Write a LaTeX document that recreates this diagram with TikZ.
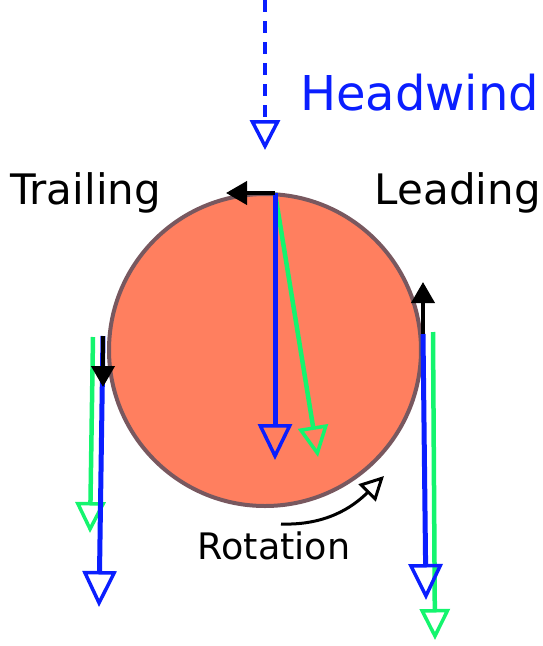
\documentclass[tikz,border=0pt]{standalone}
\usepackage{fontspec}
\setmainfont{DejaVu Sans}
\usetikzlibrary{arrows.meta,positioning}

\definecolor{wheelred}{RGB}{255,127,95}
\definecolor{rimgray}{RGB}{120,88,95}
\definecolor{windblue}{RGB}{10,30,255}
\definecolor{flowgreen}{RGB}{20,245,110}

\tikzset{
  bluevec/.style={windblue, line width=5pt, -{Triangle[open,length=36pt,width=34pt,line width=3.5pt]}},
  greenvec/.style={flowgreen, line width=4.5pt, -{Triangle[open,length=31pt,width=30pt,line width=3.5pt]}},
  spinvec/.style={black, line width=4pt, -{Triangle[length=21pt,width=23pt]}},
  label/.style={inner sep=0pt, font=\fontsize{42}{50}\selectfont}
}

\begin{document}
\begin{tikzpicture}[x=1pt, y=-1pt]
  \useasboundingbox (0,0) rectangle (543,646);

  % the wheel
  \node[circle, draw=rimgray, line width=4pt, fill=wheelred, minimum size=312pt, inner sep=0pt] (wheel) at (265,350) {};

  % headwind
  \coordinate (windtop) at (265,0);
  \coordinate (windtip) at (265,150);
  \draw[windblue, line width=3.5pt, dash pattern=on 12pt off 9pt,
        -{Triangle[open,length=30pt,width=30pt,line width=3.5pt]}] (windtop) -- (windtip);
  \node[label, text=windblue, font=\fontsize{48}{56}\selectfont, anchor=west] (headwind) at (300,93) {Headwind};

  \node[label, anchor=west] (trailing) at (10,193) {Trailing};
  \node[label, anchor=east] (leading) at (541,193) {Leading};

  % top of the wheel
  \coordinate (top) at (275,193);
  \coordinate (topspin) at (226,193);
  \coordinate (topblue) at (275,460);
  \coordinate (topgreen) at (318,457);
  \draw[greenvec] (top) -- (topgreen);
  \draw[bluevec] (top) -- (topblue);
  \draw[spinvec] (top) -- (topspin);

  % trailing side
  \coordinate (trail) at (103,336);
  \coordinate (trailspin) at (103,387);
  \coordinate (trailblue) at (99,607);
  \coordinate (trailg) at (93,337);
  \coordinate (trailgreen) at (90,533);
  \draw[greenvec] (trailg) -- (trailgreen);
  \draw[bluevec] (trail) -- (trailblue);
  \draw[spinvec] (trail) -- (trailspin);

  % leading side
  \coordinate (lead) at (423,334);
  \coordinate (leadspin) at (423,282);
  \coordinate (leadblue) at (426,600);
  \coordinate (leadg) at (433,332);
  \coordinate (leadgreen) at (435,640);
  \draw[greenvec] (leadg) -- (leadgreen);
  \draw[bluevec] (lead) -- (leadblue);
  \draw[spinvec] (lead) -- (leadspin);

  % rotation
  \node[label, font=\fontsize{36.5}{42}\selectfont] (rotation) at (274,546) {Rotation};
  \coordinate (rotfrom) at (281,524);
  \coordinate (rotto) at (384,476);
  \draw[black, line width=3pt, -{Triangle[open,length=24pt,width=24pt,line width=3pt]}]
    (rotfrom) to[out=-2, in=-135] (rotto);
\end{tikzpicture}
\end{document}
